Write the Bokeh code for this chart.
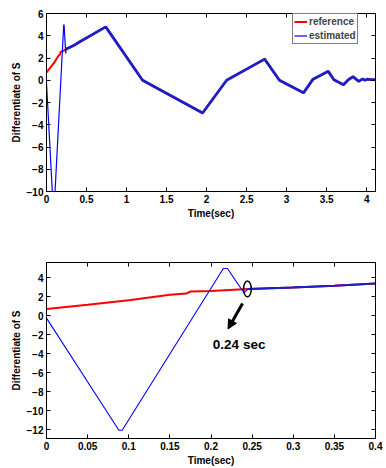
from bokeh.plotting import figure
from bokeh.layouts import column
from bokeh.models import (Range1d, LinearAxis, FixedTicker, Legend, LegendItem,
                          Arrow, NormalHead)
from bokeh.core.properties import value
from bokeh.embed import file_html
from bokeh.resources import INLINE

# ---------------- data ----------------
ref_t = [0, 0.05, 0.1, 0.15, 0.17, 0.175, 0.2, 0.245, 0.3, 0.35, 0.4, 0.74, 1.2,
         1.95, 2.25, 2.725, 2.91, 3.21, 3.33, 3.52, 3.59, 3.71, 3.77, 3.83,
         3.90, 3.95, 3.98, 4.01, 4.05, 4.11]
ref_v = [0.7, 1.15, 1.63, 2.2, 2.33, 2.55, 2.6, 2.8, 2.98, 3.16, 3.39, 4.8, 0.0,
         -2.94, 0.0, 1.9, 0.0, -1.13, 0.1, 0.8, 0.05, -0.4, 0.05, 0.32,
         -0.1, 0.12, 0.0, 0.1, 0.05, 0.05]

est_t = [0, 0.088, 0.092, 0.215, 0.22, 0.24, 0.245, 0.3, 0.35, 0.4, 0.74, 1.2,
         1.95, 2.25, 2.725, 2.91, 3.21, 3.33, 3.52, 3.59, 3.71, 3.77, 3.83,
         3.90, 3.95, 3.98, 4.01, 4.05, 4.11]
est_v = [-0.25, -12.05, -12.05, 4.97, 4.97, 2.41, 2.8, 2.98, 3.16, 3.39, 4.8, 0.0,
         -2.94, 0.0, 1.9, 0.0, -1.13, 0.1, 0.8, 0.05, -0.4, 0.05, 0.32,
         -0.1, 0.12, 0.0, 0.1, 0.05, 0.05]
conv_index = 6  # estimated joins the reference from here on (0.245 s)

x1_ticks = [0, 0.5, 1, 1.5, 2, 2.5, 3, 3.5, 4]
x1_labels = ["0", "0.5", "1", "1.5", "2", "2.5", "3", "3.5", "4"]
y1_ticks = [-10, -8, -6, -4, -2, 0, 2, 4, 6]
x2_ticks = [0, 0.05, 0.1, 0.15, 0.2, 0.25, 0.3, 0.35, 0.4]
x2_labels = ["0", "0.05", "0.1", "0.15", "0.2", "0.25", "0.3", "0.35", "0.4"]
y2_ticks = [-12, -10, -8, -6, -4, -2, 0, 2, 4]

mark_t = [0.2443]
mark_v = [2.82]
arrow_from = [0.2383, 1.29]
arrow_to = [0.2207, -1.39]
note_t = [0.2342]
note_v = [-3.02]
note_text = ["0.24 sec"]

FONT = "Liberation Sans"
RED = "#ff0000"
BLUE = "#0000ff"
DARKBLUE = "#1e1ec8"


def style(p, xt, xl, yt, tick_size, label_size):
    for ax in p.xaxis + p.yaxis:
        ax.major_label_text_font = FONT
        ax.major_label_text_font_style = "bold"
        ax.major_label_text_font_size = tick_size
        ax.major_label_text_color = "black"
        ax.axis_label_text_font = FONT
        ax.axis_label_text_font_style = "bold"
        ax.axis_label_text_font_size = label_size
        ax.axis_label_text_color = "black"
        ax.axis_line_color = "black"
        ax.major_tick_in = 4
        ax.major_tick_out = 0
        ax.minor_tick_line_color = None
        ax.major_label_standoff = 3
        ax.axis_label_standoff = 2
    p.xaxis.ticker = FixedTicker(ticks=xt)
    p.xaxis.major_label_overrides = {t: l for t, l in zip(xt, xl)}
    p.yaxis.ticker = FixedTicker(ticks=yt)
    p.xaxis.axis_label = "Time(sec)"
    p.yaxis.axis_label = "Differentiate of S"
    # box ticks on top and right (tick marks only, no labels)
    top = LinearAxis(ticker=FixedTicker(ticks=xt),
                     major_label_overrides={t: "" for t in xt},
                     major_tick_in=4, major_tick_out=0, minor_tick_line_color=None,
                     axis_line_color="black", major_label_standoff=0)
    right = LinearAxis(ticker=FixedTicker(ticks=yt),
                       major_label_overrides={t: "" for t in yt},
                       major_tick_in=4, major_tick_out=0, minor_tick_line_color=None,
                       axis_line_color="black", major_label_standoff=0)
    p.add_layout(top, "above")
    p.add_layout(right, "right")
    p.xgrid.grid_line_color = None
    p.ygrid.grid_line_color = None
    p.outline_line_color = "black"
    p.outline_line_width = 1
    p.background_fill_color = "white"
    p.border_fill_color = "white"


# ---------------- top plot ----------------
p1 = figure(width=386, height=232, output_backend="svg", toolbar_location=None,
            x_range=Range1d(0, 4.11), y_range=Range1d(-10, 6),
            min_border_left=46, min_border_right=11, min_border_top=13,
            min_border_bottom=41)
r_ref = p1.line(ref_t, ref_v, line_color=RED, line_width=2)
r_est = p1.line(est_t, est_v, line_color=BLUE, line_width=1.2)
p1.line(est_t[conv_index:], est_v[conv_index:], line_color=DARKBLUE, line_width=2.8)
style(p1, x1_ticks, x1_labels, y1_ticks, "10px", "10px")

legend = Legend(items=[LegendItem(label="reference", renderers=[r_ref]),
                       LegendItem(label="estimated", renderers=[r_est])],
                location=(246, 147), margin=0, padding=1, spacing=1,
                glyph_width=13, glyph_height=13, label_height=13,
                label_standoff=2, label_text_font=FONT,
                label_text_font_style="bold", label_text_font_size="10px",
                border_line_color="black", border_line_width=1,
                background_fill_color="white", background_fill_alpha=1)
p1.add_layout(legend)

# ---------------- bottom plot ----------------
p2 = figure(width=386, height=236, output_backend="svg", toolbar_location=None,
            x_range=Range1d(0, 0.4), y_range=Range1d(-12.92, 5.6),
            min_border_left=37, min_border_right=10, min_border_top=30,
            min_border_bottom=24)
p2.line(ref_t, ref_v, line_color=RED, line_width=2)
p2.line(est_t, est_v, line_color=BLUE, line_width=1.1)
p2.line(est_t[conv_index:], est_v[conv_index:], line_color=DARKBLUE, line_width=2)
style(p2, x2_ticks, x2_labels, y2_ticks, "10px", "10px")

p2.ellipse(x=mark_t, y=mark_v, width=0.0094, height=1.65, fill_color=None,
           line_color="black", line_width=1.5)
p2.add_layout(Arrow(end=NormalHead(size=9, fill_color="black", line_color="black"),
                    x_start=arrow_from[0], y_start=arrow_from[1],
                    x_end=arrow_to[0], y_end=arrow_to[1],
                    line_color="black", line_width=3))
p2.text(x=note_t, y=note_v, text=note_text, text_font=value(FONT),
        text_font_style="bold", text_font_size="13.5px", text_align="center",
        text_baseline="middle", text_color="black")

layout = column(p1, p2)
open("out.html", "w").write(file_html(layout, INLINE))
